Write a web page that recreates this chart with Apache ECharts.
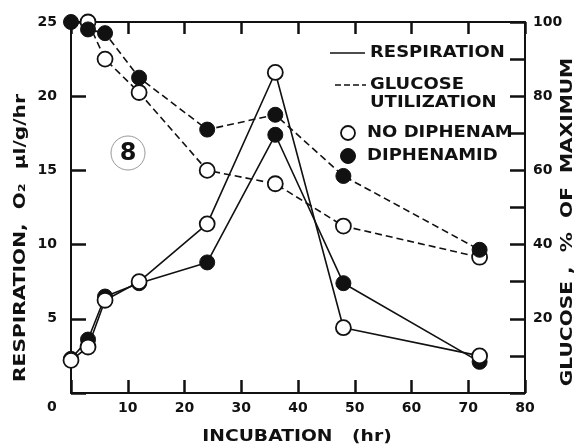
<!DOCTYPE html>
<html><head><meta charset="utf-8">
<script src="https://cdn.jsdelivr.net/npm/echarts@6/dist/echarts.min.js"></script>
<style>html,body{margin:0;padding:0;background:#fff}#c{width:577px;height:447px}</style>
</head><body><div id="c"></div>
<script>
// Data
const respHours = [0, 3, 6, 12, 24, 36, 48, 72];
const respNoDiphenamid = [2.2, 3.1, 6.25, 7.5, 11.4, 21.6, 4.4, 2.5];
const respDiphenamid = [2.3, 3.6, 6.5, 7.4, 8.8, 17.4, 7.4, 2.1];
const glucHoursNo = [3, 6, 12, 24, 36, 48, 72];
const glucNoDiphenamid = [100, 90, 81, 60, 56.4, 45, 36.6];
const glucHoursDi = [0, 3, 6, 12, 24, 36, 48, 72];
const glucDiphenamid = [100, 98, 97, 85, 71, 75, 58.5, 38.6];
const xTicks = [10, 20, 30, 40, 50, 60, 70, 80];
const leftTicks = [5, 10, 15, 20, 25];
const rightTicks = [20, 40, 60, 80, 100];

const pairs = (xs, ys) => xs.map((x, i) => [x, ys[i]]);
const F = '"DejaVu Sans", sans-serif';
const chart = echarts.init(document.getElementById('c'));

const lineStyleSolid = () => ({color: '#111', width: 1.6, type: 'solid'});
const lineStyleDash = () => ({color: '#111', width: 1.6, type: [7, 4]});
const openItem = () => ({color: '#fff', borderColor: '#111', borderWidth: 1.8});
const filledItem = () => ({color: '#111', borderColor: '#111', borderWidth: 1});
const axLine = () => ({show: true, onZero: false, lineStyle: {color: '#111', width: 2}});
const tick = len => ({show: true, inside: true, length: len, lineStyle: {color: '#111', width: 2.5}});
const lbl = (margin, list) => ({show: true, margin: margin, color: '#111', fontFamily: F, fontWeight: 'bold', fontSize: 14,
  formatter: v => list.includes(v) ? String(v) : ''});

chart.setOption({
  backgroundColor: '#fff',
  animation: false,
  grid: {left: 71, top: 22, right: 52, bottom: 54},
  xAxis: [
    {type: 'value', min: 0, max: 80, interval: 10, position: 'bottom',
     axisLine: axLine(), axisTick: tick(13), axisLabel: lbl(8, xTicks), splitLine: {show: false}},
    {type: 'value', min: 0, max: 80, interval: 10, position: 'top',
     axisLine: axLine(), axisTick: tick(12), axisLabel: {show: false}, splitLine: {show: false}}
  ],
  yAxis: [
    {type: 'value', min: 0, max: 25, interval: 5, position: 'left',
     axisLine: axLine(), axisTick: tick(15), axisLabel: lbl(14, leftTicks), splitLine: {show: false}},
    {type: 'value', min: 0, max: 100, interval: 10, position: 'right',
     axisLine: axLine(), axisTick: tick(15), axisLabel: lbl(8, rightTicks), splitLine: {show: false}}
  ],
  series: [
    {type: 'line', xAxisIndex: 0, yAxisIndex: 1,
     data: pairs(glucHoursNo, glucNoDiphenamid), symbol: 'circle', symbolSize: 15,
     lineStyle: lineStyleDash(), itemStyle: openItem(), z: 2},
    {type: 'line', xAxisIndex: 0, yAxisIndex: 1,
     data: pairs(glucHoursDi, glucDiphenamid), symbol: 'circle', symbolSize: 15,
     lineStyle: lineStyleDash(), itemStyle: filledItem(), z: 3},
    {type: 'line', xAxisIndex: 0, yAxisIndex: 0,
     data: pairs(respHours, respDiphenamid), symbol: 'circle', symbolSize: 15,
     lineStyle: lineStyleSolid(), itemStyle: filledItem(), z: 4},
    {type: 'line', xAxisIndex: 0, yAxisIndex: 0,
     data: pairs(respHours, respNoDiphenamid), symbol: 'circle', symbolSize: 15,
     lineStyle: lineStyleSolid(), itemStyle: openItem(), z: 5}
  ],
  graphic: [
    {type: 'text', left: 47, top: 400, style: {text: '0', font: 'bold 14px ' + F, fill: '#111'}},
    {type: 'text', x: 297, y: 437, scaleX: 1.17, style: {text: 'INCUBATION   (hr)', font: 'bold 16px ' + F, fill: '#111', textAlign: 'center', textVerticalAlign: 'middle'}},
    {type: 'text', x: 21, y: 238, rotation: Math.PI / 2, scaleX: 1.26, style: {text: 'RESPIRATION,  O\u2082  \u03BCl/g/hr', font: 'bold 16px ' + F, fill: '#111', textAlign: 'center', textVerticalAlign: 'middle'}},
    {type: 'text', x: 568, y: 222, rotation: Math.PI / 2, scaleX: 1.26, style: {text: 'GLUCOSE ,  %  OF  MAXIMUM', font: 'bold 16px ' + F, fill: '#111', textAlign: 'center', textVerticalAlign: 'middle'}},
    {type: 'circle', shape: {cx: 128, cy: 153, r: 17}, style: {fill: 'none', stroke: '#999', lineWidth: 1}},
    {type: 'text', x: 128, y: 154, style: {text: '8', font: 'bold 24px ' + F, fill: '#111', textAlign: 'center', textVerticalAlign: 'middle'}},
    {type: 'line', shape: {x1: 330, y1: 53, x2: 365, y2: 53}, style: {stroke: '#111', lineWidth: 1.6}},
    {type: 'text', x: 370, y: 53, scaleX: 1.2, style: {text: 'RESPIRATION', font: 'bold 15px ' + F, fill: '#111', textAlign: 'left', textVerticalAlign: 'middle'}},
    {type: 'line', shape: {x1: 335, y1: 85, x2: 366, y2: 85}, style: {stroke: '#111', lineWidth: 1.6, lineDash: [6, 3]}},
    {type: 'text', x: 370, y: 85, scaleX: 1.2, style: {text: 'GLUCOSE', font: 'bold 15px ' + F, fill: '#111', textAlign: 'left', textVerticalAlign: 'middle'}},
    {type: 'text', x: 370, y: 103, scaleX: 1.2, style: {text: 'UTILIZATION', font: 'bold 15px ' + F, fill: '#111', textAlign: 'left', textVerticalAlign: 'middle'}},
    {type: 'circle', shape: {cx: 348, cy: 133, r: 7}, style: {fill: '#fff', stroke: '#111', lineWidth: 1.8}},
    {type: 'text', x: 367, y: 133, scaleX: 1.2, style: {text: 'NO DIPHENAM', font: 'bold 15px ' + F, fill: '#111', textAlign: 'left', textVerticalAlign: 'middle'}},
    {type: 'circle', shape: {cx: 348, cy: 156, r: 7.5}, style: {fill: '#111', stroke: '#111', lineWidth: 1}},
    {type: 'text', x: 367, y: 156, scaleX: 1.2, style: {text: 'DIPHENAMID', font: 'bold 15px ' + F, fill: '#111', textAlign: 'left', textVerticalAlign: 'middle'}}
  ]
});
</script></body></html>
